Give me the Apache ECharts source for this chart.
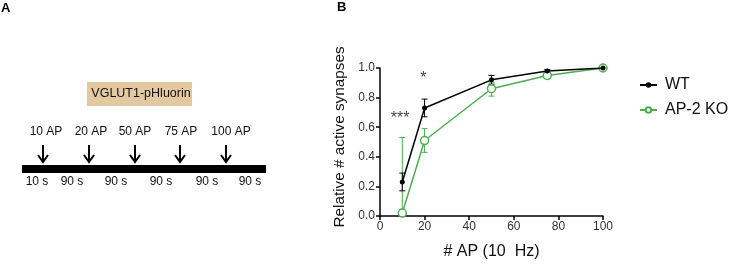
<!DOCTYPE html>
<html><head><meta charset="utf-8">
<script src="https://cdn.jsdelivr.net/npm/echarts@6/dist/echarts.min.js"></script>
<style>html,body{margin:0;padding:0;background:#fff}#c{width:735px;height:271px}</style>
</head><body><div id="c"></div>
<script>
const apCounts = [10, 20, 50, 75, 100];
const wtMean = [0.23, 0.73, 0.92, 0.98, 1.0];
const wtLow  = [0.17, 0.67, 0.89, 0.97, 1.0];
const wtHigh = [0.29, 0.79, 0.95, 0.99, 1.0];
const koMean = [0.02, 0.51, 0.86, 0.95, 1.0];
const koLow  = [0.00, 0.43, 0.81, 0.93, 1.0];
const koHigh = [0.53, 0.59, 0.90, 0.97, 1.0];
const starLabels = ['***', '*'];
const starX = [9, 19.5];
const starY = [0.66, 0.93];
const pulseLabels = ['10 AP', '20 AP', '50 AP', '75 AP', '100 AP'];
const intervalLabels = ['10 s', '90 s', '90 s', '90 s', '90 s', '90 s'];
const yAxisTitle = 'Relative # active synapses';

const green = '#4cae4f';
const font = 'Liberation Sans, Arial, sans-serif';

function errSeries(name, low, high, color) {
  return {
    type: 'custom', name: name + '_err', silent: true, z: 1,
    data: apCounts.map((x, i) => [x, low[i], high[i]]),
    renderItem: function (params, api) {
      const x = api.value(0);
      const lo = api.coord([x, api.value(1)]);
      const hi = api.coord([x, api.value(2)]);
      const w = 3;
      const st = { stroke: color, lineWidth: 1 };
      return { type: 'group', children: [
        { type: 'line', shape: { x1: lo[0], y1: lo[1], x2: hi[0], y2: hi[1] }, style: st },
        { type: 'line', shape: { x1: lo[0]-w, y1: lo[1], x2: lo[0]+w, y2: lo[1] }, style: st },
        { type: 'line', shape: { x1: hi[0]-w, y1: hi[1], x2: hi[0]+w, y2: hi[1] }, style: st }
      ]};
    }
  };
}

// Panel A schematic
const g = [];
g.push({ type: 'text', left: 1, top: 2, style: { text: 'A', font: 'bold 13px ' + font, fill: '#000' } });
g.push({ type: 'text', left: 337, top: 1, style: { text: 'B', font: 'bold 13px ' + font, fill: '#000' } });
g.push({ type: 'rect', shape: { x: 87, y: 82, width: 105, height: 24 }, style: { fill: '#e3c9a2' } });
g.push({ type: 'text', x: 141, y: 94, style: { text: 'VGLUT1-pHluorin', font: '12.5px ' + font, fill: '#111', align: 'center', verticalAlign: 'middle' } });
const arrowX = [43, 89, 135, 180, 226];
const labelX = [46, 91, 135, 181, 231];
pulseLabels.forEach((t, i) => {
  g.push({ type: 'text', x: labelX[i], y: 132, style: { text: t, font: '12px ' + font, fill: '#111', align: 'center', verticalAlign: 'middle' } });
  g.push({ type: 'line', shape: { x1: arrowX[i], y1: 145, x2: arrowX[i], y2: 161 }, style: { stroke: '#000', lineWidth: 2 } });
  g.push({ type: 'polyline', shape: { points: [[arrowX[i]-5, 155], [arrowX[i], 162], [arrowX[i]+5, 155]] }, style: { stroke: '#000', lineWidth: 2, fill: null } });
});
g.push({ type: 'rect', shape: { x: 22, y: 165, width: 244, height: 8 }, style: { fill: '#000' } });
const intX = [37, 72, 116, 161, 207, 250];
intervalLabels.forEach((t, i) => {
  g.push({ type: 'text', x: intX[i], y: 182, style: { text: t, font: '12px ' + font, fill: '#111', align: 'center', verticalAlign: 'middle' } });
});
g.push({ type: 'text', x: 340, y: 137, rotation: Math.PI / 2,
  style: { text: yAxisTitle, font: '15.3px ' + font, fill: '#111', align: 'center', verticalAlign: 'middle' } });

const chart = echarts.init(document.getElementById('c'));
chart.setOption({
  animation: false,
  backgroundColor: '#fff',
  graphic: g,
  grid: { left: 380, right: 132, top: 68, bottom: 55, containLabel: false },
  legend: {
    data: ['WT', 'AP-2 KO'], orient: 'vertical', left: 634, top: 72, itemGap: 9,
    itemWidth: 17, itemHeight: 7,
    textStyle: { fontFamily: font, fontSize: 16, color: '#111', padding: [0, 0, 0, 3] }
  },
  xAxis: {
    type: 'value', min: 0, max: 100, interval: 20,
    name: '# AP (10  Hz)', nameLocation: 'middle', nameGap: 28,
    nameTextStyle: { fontFamily: font, fontSize: 16, color: '#111' },
    axisLine: { lineStyle: { color: '#000', width: 1.5 } },
    axisTick: { length: 4, lineStyle: { color: '#000', width: 1.5 } },
    axisLabel: { fontFamily: font, fontSize: 12, color: '#333', margin: 5 },
    splitLine: { show: false }
  },
  yAxis: {
    type: 'value', min: 0, max: 1, interval: 0.2,
    axisLine: { show: true, lineStyle: { color: '#000', width: 1.5 } },
    axisTick: { show: true, length: 4, lineStyle: { color: '#000', width: 1.5 } },
    axisLabel: { fontFamily: font, fontSize: 12, color: '#333', margin: 5, formatter: v => v.toFixed(1) },
    splitLine: { show: false }
  },
  series: [
    errSeries('KO', koLow, koHigh, green),
    errSeries('WT', wtLow, wtHigh, '#000'),
    {
      name: 'AP-2 KO', type: 'line', z: 2,
      data: apCounts.map((x, i) => [x, koMean[i]]),
      symbol: 'circle', symbolSize: 8, showSymbol: true,
      lineStyle: { color: green, width: 1.5 },
      itemStyle: { color: '#fff', borderColor: green, borderWidth: 1.5 }
    },
    {
      name: 'WT', type: 'line', z: 3,
      data: apCounts.map((x, i) => [x, wtMean[i]]),
      symbol: 'circle', symbolSize: 5, showSymbol: true,
      lineStyle: { color: '#000', width: 1.5 },
      itemStyle: { color: '#000' }
    },
    {
      name: 'stars', type: 'scatter', symbolSize: 0, silent: true,
      data: starX.map((x, i) => ({ value: [x, starY[i]], label: { show: true, formatter: starLabels[i] } })),
      label: { position: 'inside', fontFamily: font, fontSize: 16, color: '#111' }
    }
  ]
});
</script></body></html>
